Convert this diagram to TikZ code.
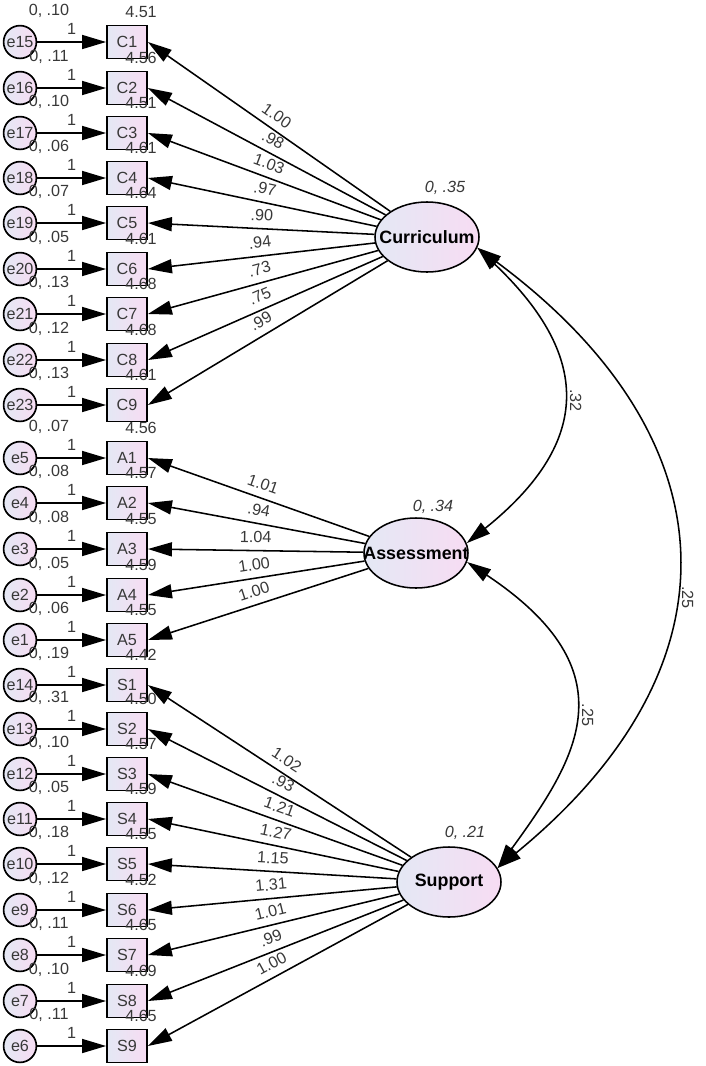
\documentclass[tikz,border=0pt]{standalone}
\usepackage{fontspec}
\setmainfont{Liberation Sans}
\usetikzlibrary{arrows.meta,shapes.geometric,positioning}

\definecolor{fillL}{HTML}{E4E8F4}
\definecolor{fillR}{HTML}{F7DCF3}
\definecolor{txt}{HTML}{383838}

\begin{document}
\begin{tikzpicture}[x=0.25mm,y=-0.25mm,
    every node/.style={font=\fontsize{11.5}{13}\selectfont,text=txt},
    obs/.style={draw,line width=1.3pt,left color=fillL,right color=fillR,
      minimum width=10mm,minimum height=8.25mm,inner sep=0pt},
    err/.style={circle,draw,line width=1.2pt,left color=fillL,right color=fillR,
      minimum size=8.2mm,inner sep=0pt},
    lat/.style={ellipse,draw,line width=1.1pt,left color=fillL,right color=fillR,
      minimum width=26mm,minimum height=17.5mm,inner sep=0pt},
    latname/.style={text=black,font=\fontsize{12.7}{14}\selectfont\bfseries},
    loadarrow/.style={line width=1.1pt,-{Triangle[length=6mm,width=3.5mm]}},
    cov/.style={line width=1.1pt,
      {Triangle[length=6mm,width=3.5mm]}-{Triangle[length=6mm,width=3.5mm]}},
    coef/.style={midway,above=4pt,sloped,inner sep=1pt},
    covlbl/.style={midway,anchor=south,rotate=-90,inner sep=5pt},
    varlbl/.style={font=\fontsize{11.5}{13}\selectfont\itshape}]
  \useasboundingbox (0,0) rectangle (705,1066);

  % observed items, their errors, variances and intercepts
  \foreach \v/\e/\y/\ev/\ic in {C1/e15/42/.10/4.51, C2/e16/88/.11/4.56,
      C3/e17/133/.10/4.51, C4/e18/178/.06/4.61, C5/e19/223/.07/4.64,
      C6/e20/269/.05/4.61, C7/e21/314/.13/4.68, C8/e22/360/.12/4.68,
      C9/e23/405/.13/4.61, A1/e5/458/.07/4.56, A2/e4/503/.08/4.57,
      A3/e3/549/.08/4.55, A4/e2/595/.05/4.59, A5/e1/640/.06/4.55,
      S1/e14/685/.19/4.42, S2/e13/729/.31/4.50, S3/e12/774/.10/4.57,
      S4/e11/819/.05/4.59, S5/e10/864/.18/4.55, S6/e9/910/.12/4.52,
      S7/e8/955/.11/4.65, S8/e7/1001/.10/4.69, S9/e6/1046/.11/4.65}
  {
    \node[obs] (\v) at (127,\y) {\v};
    \node[err] (\e) at (20,\y) {\e};
    \draw[loadarrow] (\e) -- node[coef] {1} (\v);
    \node (ev\e) at (49,\y-31) {0, \ev};
    \node (ic\v) at (141,\y-30) {\ic};
  }

  % latent factors
  \node[lat,label={[latname]center:Curriculum}] (Curr) at (427,237) {};
  \node[lat,label={[latname]center:Assessment}] (Assess) at (416,553) {};
  \node[lat,label={[latname]center:Support}] (Supp) at (449,882) {};
  \node[varlbl] (vCurr) at (445,188) {0, .35};
  \node[varlbl] (vAssess) at (433,507) {0, .34};
  \node[varlbl] (vSupp) at (465,833) {0, .21};

  % loadings
  \foreach \v/\w in {C1/1.00, C2/.98, C3/1.03, C4/.97, C5/.90, C6/.94,
      C7/.73, C8/.75, C9/.99}
    \draw[loadarrow] (Curr) -- node[coef] {\w} (\v.east);
  \foreach \v/\w in {A1/1.01, A2/.94, A3/1.04, A4/1.00, A5/1.00}
    \draw[loadarrow] (Assess) -- node[coef] {\w} (\v.east);
  \foreach \v/\w in {S1/1.02, S2/.93, S3/1.21, S4/1.27, S5/1.15, S6/1.31,
      S7/1.01, S8/.99, S9/1.00}
    \draw[loadarrow] (Supp) -- node[coef] {\w} (\v.east);

  % covariances
  \draw[cov] (Curr.-12) .. controls +(118,112) and +(122,-98) ..
    node[covlbl] {.32} (Assess.11);
  \draw[cov] (Assess.-10) .. controls +(165,110) and +(80,-110) ..
    node[covlbl] {.25} (Supp.16);
  \draw[cov] (Curr.-12) .. controls +(255,189) and +(248,-203) ..
    node[covlbl,pos=.57] {.25} (Supp.16);
\end{tikzpicture}
\end{document}
